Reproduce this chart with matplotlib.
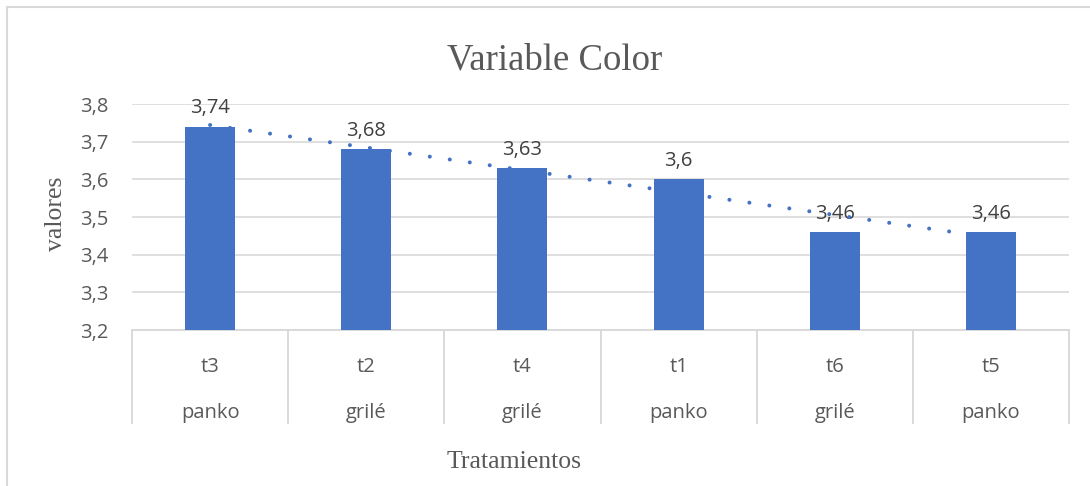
import matplotlib.pyplot as plt
import numpy as np
from matplotlib.patches import Rectangle

# data
tratamientos = ['t3', 't2', 't4', 't1', 't6', 't5']
grupos = ['panko', 'grilé', 'grilé', 'panko', 'grilé', 'panko']
valores = [3.74, 3.68, 3.63, 3.6, 3.46, 3.46]
etiquetas = ['3,74', '3,68', '3,63', '3,6', '3,46', '3,46']
yticks = [3.2, 3.3, 3.4, 3.5, 3.6, 3.7, 3.8]

azul = '#4472C4'
gris_txt = '#595959'
gris_lin = '#D9D9D9'
sans = 'Open Sans'
serif = 'Liberation Serif'

fig = plt.figure(figsize=(10.9, 4.86), dpi=100)
ax = fig.add_axes([132 / 1090, 1 - 330 / 486, (1069 - 132) / 1090, 226 / 486])

x = np.arange(len(valores))
ax.bar(x, valores, width=0.32, color=azul, zorder=3)

# linear trendline like Excel
m, b = np.polyfit(x, valores, 1)
ax.plot(x, m * x + b, color=azul, lw=2.9, linestyle=(0, (0.01, 5.0)),
        dash_capstyle='round', zorder=6)

for xi, v, t in zip(x, valores, etiquetas):
    ax.annotate(t, (xi, v), xytext=(0, 6), textcoords='offset points',
                ha='center', va='bottom', fontsize=14.5, family=sans,
                color='#404040', zorder=5)

ax.set_xlim(-0.5, len(valores) - 0.5)
ax.set_ylim(3.2, 3.8)
ax.set_yticks(yticks)
ax.set_yticklabels([f'{t:.1f}'.replace('.', ',') for t in yticks],
                   family=sans, fontsize=14.5, color=gris_txt)
ax.tick_params(axis='y', length=0, pad=17)
ax.set_xticks([])
for s in ax.spines.values():
    s.set_visible(False)
ax.grid(axis='y', color=gris_lin, lw=1.2, zorder=0)
ax.set_axisbelow(True)

# two-level category axis
trans = ax.get_xaxis_transform()
ax.plot([-0.5, len(valores) - 0.5], [0, 0], transform=trans, color=gris_lin,
        lw=1.4, clip_on=False)
for k in range(len(valores) + 1):
    ax.plot([k - 0.5, k - 0.5], [0, -0.4115], transform=trans, color=gris_lin,
            lw=1.4, clip_on=False)
for xi, t, g in zip(x, tratamientos, grupos):
    ax.text(xi, -0.1637, t, transform=trans, ha='center', va='center',
            family=sans, fontsize=14.5, color=gris_txt)
    ax.text(xi, -0.367, g, transform=trans, ha='center', va='center',
            family=sans, fontsize=14.5, color=gris_txt)

fig.text(555 / 1090, 1 - 69 / 486, 'Variable Color', ha='center', va='baseline',
         family=serif, fontsize=26.5, color=gris_txt)
fig.text(56 / 1090, 1 - 214 / 486, 'valores', ha='center', va='center',
         rotation=90, family=serif, fontsize=18.5, color=gris_txt)
fig.text(514 / 1090, 1 - 462 / 486, 'Tratamientos', ha='center', va='center',
         family=serif, fontsize=18.5, color=gris_txt)

# chart area border (only left and top visible)
fig.add_artist(Rectangle((7 / 1090, -0.01), 1.02, 1 - 7 / 486 + 0.01,
                         transform=fig.transFigure, fill=False,
                         edgecolor=gris_lin, lw=1.5))

fig.savefig('out.png', dpi=100)
